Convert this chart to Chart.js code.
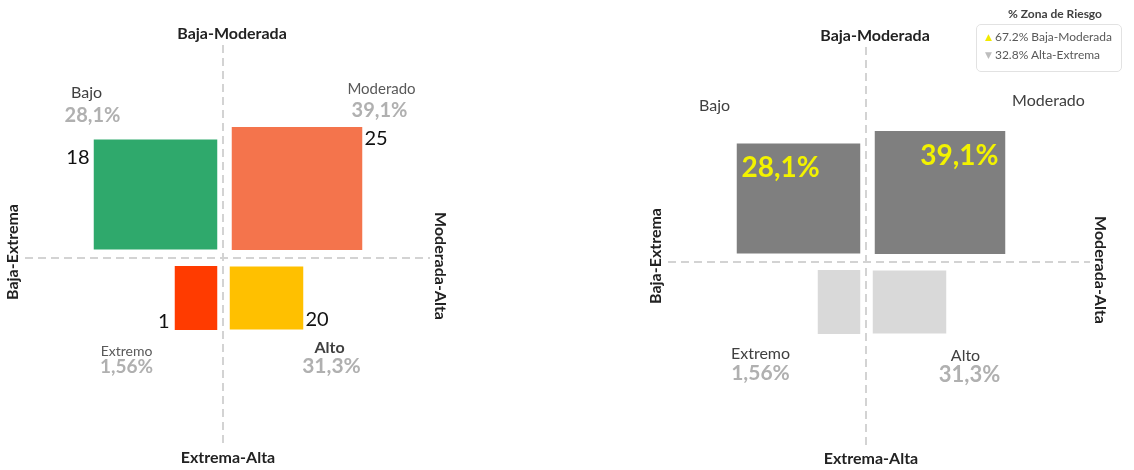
<!DOCTYPE html>
<html lang="es">
<head>
<meta charset="utf-8">
<title>Zona de Riesgo</title>
<script src="https://cdn.jsdelivr.net/npm/chart.js@4.4.1/dist/chart.umd.min.js"></script>
<style>
    body { margin: 0; background: #fff; font-family: Lato, sans-serif; }
    .wrap { position: relative; width: 1134px; height: 470px; overflow: hidden; }
    #leftChart { position: absolute; left: 0; top: 0; }
    #rightChart { position: absolute; left: 560px; top: 0; }
    .legend-title {
        position: absolute; left: 995px; top: 6px; width: 120px;
        text-align: center; font: bold 12px Lato, sans-serif; color: #404040;
    }
    .legend-box {
        position: absolute; left: 976px; top: 24px; width: 136px; height: 43px;
        padding: 3px 0 0 8px; border: 1px solid #e2e2e2; border-radius: 5px;
        font: 12px Lato, sans-serif; color: #595959;
    }
    .legend-box .fila { height: 18px; line-height: 18px; white-space: nowrap; }
    .legend-box .tri { font: 9px "DejaVu Sans", sans-serif; margin-right: 3px; vertical-align: 1px; }
</style>
</head>
<body>
<div class="wrap">
    <canvas id="leftChart" width="560" height="470"></canvas>
    <canvas id="rightChart" width="574" height="470"></canvas>
    <div class="legend-title">% Zona de Riesgo</div>
    <div class="legend-box" id="zoneLegend"></div>
</div>
<script>
// datos
const categorias = ['Bajo', 'Moderado', 'Extremo', 'Alto'];
const conteos = [18, 25, 1, 20];
const porcentajes = ['28,1%', '39,1%', '1,56%', '31,3%'];
const ejes = ['Baja-Moderada', 'Extrema-Alta', 'Baja-Extrema', 'Moderada-Alta']; // arriba, abajo, izquierda, derecha
const zonas = ['Baja-Moderada', 'Alta-Extrema'];
const zonasPct = ['67.2%', '32.8%'];

// tamaño de cada caja en unidades de los ejes y separación respecto al cruce
const anchoCaja = [12.4, 13.1, 4.3, 7.4];
const altoCaja = [11.0, 12.3, 6.4, 6.3];
const sepX = [0.55, 0.85, 0.55, 0.65];
const sepY = [0.85, 0.8, 0.8, 0.85];
const ladoX = [-1, 1, -1, 1];
const ladoY = [1, 1, -1, -1];

// rango de los ejes
const rangoXIzq = [-19.8, 20.7];
const rangoYIzq = [-18.8, 21.3];
const rangoXDer = [-19.8, 22.4];
const rangoYDer = [-18.5, 21.5];

const coloresRiesgo = ['#2fa96c', '#f4744c', '#ff3b00', '#ffc000'];
const coloresZona = ['#7f7f7f', '#7f7f7f', '#d9d9d9', '#d9d9d9'];
const coloresLeyenda = ['#f2ea00', '#bdbdbd'];

function caja(i) {
    const a = ladoX[i] * sepX[i], b = ladoX[i] * (sepX[i] + anchoCaja[i]);
    const c = ladoY[i] * sepY[i], d = ladoY[i] * (sepY[i] + altoCaja[i]);
    return { left: Math.min(a, b), right: Math.max(a, b), bottom: Math.min(c, d), top: Math.max(c, d) };
}

function datasets(colores) {
    return categorias.map((cat, i) => {
        const c = caja(i);
        return {
            label: cat,
            data: [{ x: c.left, y: c.top }, { x: c.right, y: c.top }],
            fill: { value: c.bottom },
            backgroundColor: colores[i],
            borderColor: 'rgba(0,0,0,0)',
            borderWidth: 0,
            pointRadius: 0
        };
    });
}

function eje(rango) {
    return {
        type: 'linear',
        min: rango[0],
        max: rango[1],
        ticks: { display: false },
        grid: { color: '#d3d3d3', lineWidth: 2, drawTicks: false },
        border: { display: false, dash: [8, 5] },
        afterBuildTicks: axis => { axis.ticks = [{ value: 0 }]; }
    };
}

function textos(etiquetas) {
    return {
        id: 'textos',
        afterDatasetsDraw(chart) {
            const { ctx, chartArea, scales: { x, y } } = chart;
            const cx = x.getPixelForValue(0), cy = y.getPixelForValue(0);
            ctx.save();
            ctx.textBaseline = 'middle';
            ctx.textAlign = 'center';
            ctx.font = 'bold 16px Lato';
            ctx.fillStyle = '#222';
            ctx.fillText(ejes[0], cx + 9, chartArea.top - 11);
            ctx.fillText(ejes[1], cx + 5, chartArea.bottom + 12);
            ctx.save();
            ctx.translate(chartArea.left - 12, cy - 6);
            ctx.rotate(-Math.PI / 2);
            ctx.fillText(ejes[2], 0, 0);
            ctx.restore();
            ctx.save();
            ctx.translate(chartArea.right + 10, cy + 8);
            ctx.rotate(Math.PI / 2);
            ctx.fillText(ejes[3], 0, 0);
            ctx.restore();

            etiquetas.forEach(e => {
                const c = caja(e.q);
                const px = x.getPixelForValue(ladoX[e.q] < 0 ? c.left : c.right);
                const py = y.getPixelForValue(ladoY[e.q] > 0 ? c.top : c.bottom);
                let texto = categorias[e.q];
                if (e.campo === 'pct') texto = porcentajes[e.q];
                if (e.campo === 'conteo') texto = String(conteos[e.q]);
                ctx.font = e.font;
                ctx.fillStyle = e.color;
                ctx.textAlign = e.align || 'center';
                ctx.fillText(texto, px + e.dx, py + e.dy);
            });
            ctx.restore();
        }
    };
}

const gris = '#b0b0b0';
const etiquetasIzq = [
    { q: 0, campo: 'nombre', dx: -7, dy: -47, font: '16px Lato', color: '#404040' },
    { q: 0, campo: 'pct', dx: -1, dy: -24, font: 'bold 20px Lato', color: gris },
    { q: 0, campo: 'conteo', dx: -4, dy: 18, align: 'right', font: '20px Lato', color: '#111' },
    { q: 1, campo: 'nombre', dx: 19, dy: -38, font: '15px Lato', color: '#595959' },
    { q: 1, campo: 'pct', dx: 17, dy: -16, font: 'bold 20px Lato', color: gris },
    { q: 1, campo: 'conteo', dx: 2, dy: 12, align: 'left', font: '20px Lato', color: '#111' },
    { q: 2, campo: 'nombre', dx: -48, dy: 21, font: '14px Lato', color: '#595959' },
    { q: 2, campo: 'pct', dx: -48, dy: 37, font: 'bold 19px Lato', color: gris },
    { q: 2, campo: 'conteo', dx: -5, dy: -8, align: 'right', font: '20px Lato', color: '#111' },
    { q: 3, campo: 'nombre', dx: 26, dy: 18, font: 'bold 16px Lato', color: '#404040' },
    { q: 3, campo: 'pct', dx: 28, dy: 37, font: 'bold 21px Lato', color: gris },
    { q: 3, campo: 'conteo', dx: 2, dy: -10, align: 'left', font: '20px Lato', color: '#111' }
];
const etiquetasDer = [
    { q: 0, campo: 'nombre', dx: -22, dy: -38, font: '16px Lato', color: '#404040' },
    { q: 0, campo: 'pct', dx: 5, dy: 24, align: 'left', font: 'bold 28px Lato', color: '#f2f200' },
    { q: 1, campo: 'nombre', dx: 43, dy: -30, font: '16px Lato', color: '#404040' },
    { q: 1, campo: 'pct', dx: -7, dy: 25, align: 'right', font: 'bold 28px Lato', color: '#f2f200' },
    { q: 2, campo: 'nombre', dx: -57, dy: 20, font: '16px Lato', color: '#404040' },
    { q: 2, campo: 'pct', dx: -57, dy: 39, font: 'bold 21px Lato', color: gris },
    { q: 3, campo: 'nombre', dx: 19, dy: 22, font: '16px Lato', color: '#404040' },
    { q: 3, campo: 'pct', dx: 23, dy: 41, font: 'bold 22px Lato', color: gris }
];

function crearGrafico(id, colores, rx, ry, padding, etiquetas) {
    const ctx = document.getElementById(id).getContext('2d');
    return new Chart(ctx, {
        type: 'line',
        data: { datasets: datasets(colores) },
        options: {
            responsive: false,
            animation: false,
            events: [],
            layout: { padding: padding },
            plugins: {
                legend: { display: false },
                tooltip: { enabled: false }
            },
            scales: { x: eje(rx), y: eje(ry) }
        },
        plugins: [textos(etiquetas)]
    });
}

document.addEventListener('DOMContentLoaded', function() {
    crearGrafico('leftChart', coloresRiesgo, rangoXIzq, rangoYIzq,
        { left: 25, right: 130, top: 45, bottom: 24 }, etiquetasIzq);
    crearGrafico('rightChart', coloresZona, rangoXDer, rangoYDer,
        { left: 108, right: 44, top: 47, bottom: 23 }, etiquetasDer);

    // leyenda de zonas
    document.getElementById('zoneLegend').innerHTML = zonas.map((z, i) =>
        `<div class="fila"><span class="tri" style="color:${coloresLeyenda[i]}">${i === 0 ? '▲' : '▼'}</span>${zonasPct[i]} ${z}</div>`
    ).join('');
});
</script>
</body>
</html>
